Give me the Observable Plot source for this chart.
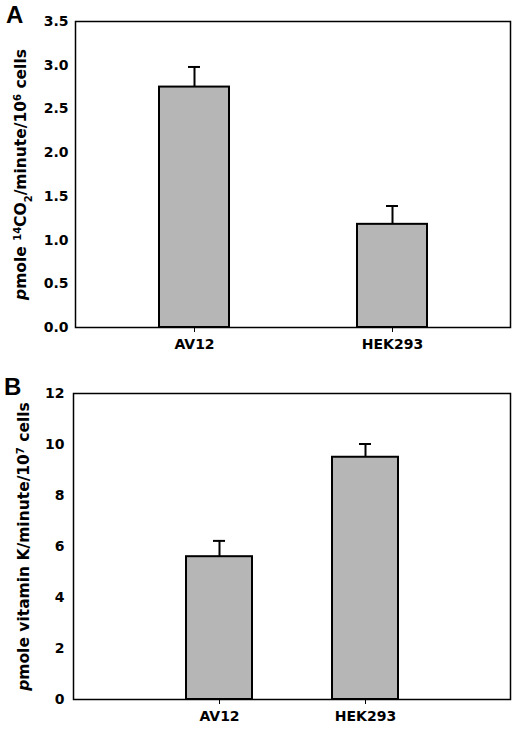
<!DOCTYPE html>
<html>
<head>
<meta charset="utf-8">
<script src="https://cdn.jsdelivr.net/npm/d3@7"></script>
<script src="https://cdn.jsdelivr.net/npm/@observablehq/plot@0.6"></script>
<style>
  body { margin: 0; background: #fff; }
  .panel { position: relative; width: 520px; }
  .tag { position: absolute; font: bold 24px "Liberation Sans", Arial, sans-serif; color: #000; }
</style>
</head>
<body>
<div id="a" class="panel"><div class="tag" style="left:6px;top:1px">A</div></div>
<div id="b" class="panel"><div class="tag" style="left:4px;top:13px">B</div></div>
<script>
const cellLines = ["AV12", "HEK293"];
const co2Rate = [2.75, 1.18];
const co2Err = [0.23, 0.21];
const vitKRate = [5.6, 9.5];
const vitKErr = [0.62, 0.52];
const ticksA = [0, 0.5, 1.0, 1.5, 2.0, 2.5, 3.0, 3.5];
const ticksB = [0, 2, 4, 6, 8, 10, 12];

const font = {
  "font-family": "DejaVu Sans, sans-serif",
  "font-size": "14px",
  "font-weight": "bold",
  color: "black",
  background: "white",
};

function panel(values, errs, opts) {
  const data = cellLines.map((c, i) => ({ cell: c, v: values[i], e: errs[i] }));
  return Plot.plot({
    width: 520,
    height: opts.height,
    marginTop: opts.marginTop,
    marginBottom: opts.marginBottom,
    marginLeft: opts.marginLeft,
    marginRight: 10,
    style: font,
    x: {
      domain: cellLines,
      paddingInner: opts.pin,
      paddingOuter: opts.pout,
      label: null,
      tickSize: 5,
      tickPadding: 7,
    },
    y: {
      domain: opts.domain,
      ticks: opts.ticks,
      tickFormat: opts.fmt,
      tickSize: 0,
      tickPadding: opts.tickPad,
      label: "ylabel",
      labelAnchor: "center",
      labelOffset: opts.labelOffset,
    },
    marks: [
      Plot.barY(data, { x: "cell", y: "v", fill: "#b6b6b6", stroke: "black", strokeWidth: 2 }),
      Plot.ruleX(data, { x: "cell", y1: "v", y2: (d) => d.v + d.e, stroke: "black", strokeWidth: 2 }),
      Plot.tickY(data, {
        x: "cell",
        y: (d) => d.v + d.e,
        insetLeft: opts.capInset,
        insetRight: opts.capInset,
        stroke: "black",
        strokeWidth: 2,
      }),
      Plot.frame({ stroke: "black", strokeWidth: 1.5 }),
    ],
  });
}

// rewrite the y label with italic p and super/subscripts
function setLabel(svg, parts) {
  const t = d3.select(svg).select('g[aria-label="y-axis label"] text');
  t.text(null).attr("font-size", "15.5px");
  for (const p of parts) {
    const s = t.append("tspan").text(p.t);
    if (p.i) s.attr("font-style", "italic");
    if (p.sup) s.attr("baseline-shift", "super").attr("font-size", "10px");
    if (p.sub) s.attr("baseline-shift", "sub").attr("font-size", "10px");
  }
}

const chartA = panel(co2Rate, co2Err, {
  height: 360, marginTop: 21, marginBottom: 33, marginLeft: 75,
  pin: 0.648, pout: 0.417, domain: [0, 3.5], ticks: ticksA, fmt: ".1f",
  tickPad: 7, labelOffset: 61, capInset: 29,
});
setLabel(chartA, [
  { t: "p", i: true }, { t: "mole " }, { t: "14", sup: true }, { t: "CO" },
  { t: "2", sub: true }, { t: "/minute/10" }, { t: "6", sup: true }, { t: " cells" },
]);

const chartB = panel(vitKRate, vitKErr, {
  height: 375, marginTop: 33, marginBottom: 36, marginLeft: 73,
  pin: 0.548, pout: 0.77, domain: [0, 12], ticks: ticksB, fmt: "d",
  tickPad: 9, labelOffset: 56, capInset: 27,
});
setLabel(chartB, [
  { t: "p", i: true }, { t: "mole vitamin K/minute/10" }, { t: "7", sup: true }, { t: " cells" },
]);

d3.select("#a").append(() => chartA);
d3.select("#b").append(() => chartB);
</script>
</body>
</html>
